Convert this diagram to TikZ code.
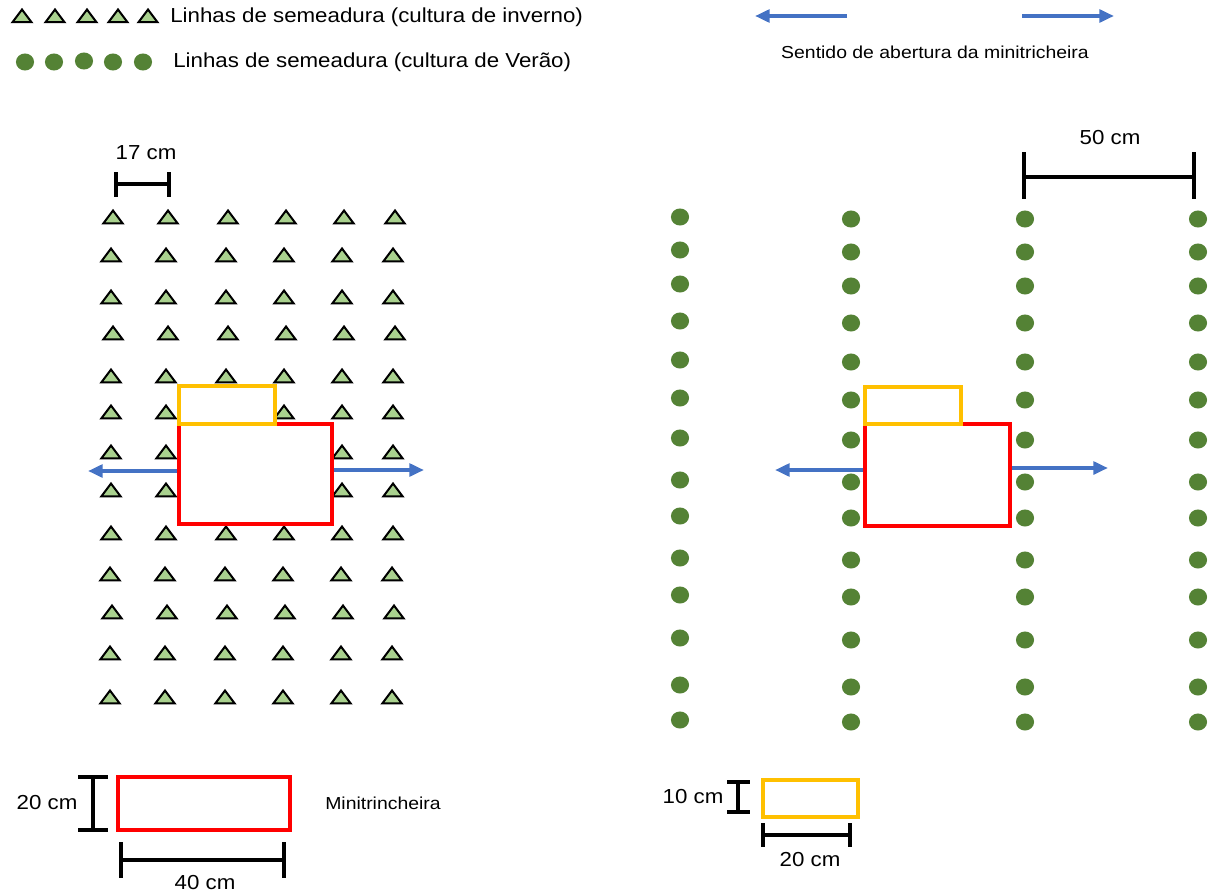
\documentclass[tikz,border=0pt]{standalone}
\usepackage{fontspec}
\setmainfont{Liberation Sans}
\usetikzlibrary{shapes.geometric,arrows.meta}
\definecolor{triFill}{HTML}{A9D18E}
\definecolor{dotFill}{HTML}{548235}
\definecolor{arrBlue}{HTML}{4472C4}
\definecolor{pitRed}{HTML}{FF0000}
\definecolor{pitGold}{HTML}{FFC000}
\tikzset{
  tri/.style={regular polygon, regular polygon sides=3, draw=black, fill=triFill,
    line width=1.5pt, minimum size=15pt, inner sep=0pt, xscale=1.1, yscale=0.85},
  dot/.style={ellipse, fill=dotFill, minimum width=13.6pt, minimum height=12.8pt, inner sep=0pt},
  pitbox/.style={draw=pitRed, fill=white, line width=2.4pt, inner sep=0pt},
  subbox/.style={draw=pitGold, fill=white, line width=2.3pt, inner sep=0pt},
  openarrow/.style={draw=arrBlue, line width=3.2pt, -{Triangle[length=11pt,width=9.5pt]}},
  dimline/.style={draw=black, line width=2.3pt},
  lbl/.style={font=\fontsize{15.2}{18}\selectfont, inner sep=0pt, xscale=1.1},
  smalllbl/.style={font=\fontsize{13}{16}\selectfont, inner sep=0pt, xscale=1.12},
}
\begin{document}
\begin{tikzpicture}[x=0.75pt,y=-0.75pt]
\useasboundingbox (0,0) rectangle (1216,892);

% ---- legend ----
\foreach \x [count=\i] in {22,55,87,118,148}
  \node[tri] (lt\i) at (\x,18) {};
\node[lbl, anchor=west] (ltxt) at (170,17) {Linhas de semeadura (cultura de inverno)};
\foreach \x/\yy [count=\i] in {25/62,54/62,84/61,113/62,143/62}
  \node[dot] (ld\i) at (\x,\yy) {};
\node[lbl, anchor=west] (ldtxt) at (173,62) {Linhas de semeadura (cultura de Ver\~ao)};

\coordinate (la0) at (847,16); \coordinate (la1) at (755,16);
\coordinate (ra0) at (1022,16); \coordinate (ra1) at (1114,16);
\draw[openarrow] (la0) -- (la1);
\draw[openarrow] (ra0) -- (ra1);
\node[smalllbl] (dirtxt) at (935,52) {Sentido de abertura da minitricheira};

% ---- winter crop rows (triangles) ----
\foreach \r/\y/\dx/\cols in {
   1/217/2/{1,2,3,4,5,6},
   2/255/0/{1,2,3,4,5,6},
   3/297/0/{1,2,3,4,5,6},
   4/333/2/{1,2,3,4,5,6},
   5/376/0/{1,2,3,4,5,6},
   6/412/0/{1,2,4,5,6},
   7/452/0/{1,2,5,6},
   8/490/0/{1,2,5,6},
   9/533/0/{1,2,3,4,5,6},
  10/574/-1/{1,2,3,4,5,6},
  11/612/1/{1,2,3,4,5,6},
  12/653/-1/{1,2,3,4,5,6},
  13/697/-1/{1,2,3,4,5,6}}{
  \foreach \c in \cols {
    \pgfmathsetmacro{\xx}{{111,166,226,284,342,393}[\c-1]+\dx}
    \node[tri] (t-\r-\c) at (\xx,\y+2) {};
  }
}

% ---- summer crop rows (circles) ----
\foreach \r/\y in {1/217,2/250,3/284,4/321,5/360,6/398,7/438,8/480,9/516,10/558,11/595,12/638,13/685,14/720}{
  \foreach \x [count=\c] in {680,851,1025,1198}{
    \pgfmathsetmacro{\yy}{\c==1 ? \y : \y+2}
    \node[dot] (c-\r-\c) at (\x,\yy) {};
  }
}

% ---- mini-trench, winter crop ----
\node[pitbox, minimum width=114.75pt, minimum height=75pt] (redL) at (255.5,474) {};
\node[subbox, minimum width=72pt, minimum height=28.5pt] (yelL) at (227,405) {};
\coordinate (wl) at (88,471); \coordinate (wr) at (424,470);
\draw[openarrow] (redL.west |- wl) -- (wl);
\draw[openarrow] (redL.east |- wr) -- (wr);

% ---- mini-trench, summer crop ----
\node[pitbox, minimum width=108.75pt, minimum height=76.5pt] (redR) at (937.5,475) {};
\node[subbox, minimum width=72pt, minimum height=27.75pt] (yelR) at (913,405.5) {};
\coordinate (sl) at (775,470); \coordinate (sr) at (1108,468);
\draw[openarrow] (redR.west |- sl) -- (sl);
\draw[openarrow] (redR.east |- sr) -- (sr);

% ---- spacing dimensions ----
\draw[dimline] (116,172) -- (116,197) (169,172) -- (169,197) (116,184) -- (169,184);
\node[lbl] (d17) at (146,153) {17 cm};
\draw[dimline] (1024,152) -- (1024,199) (1194,152) -- (1194,199) (1024,177) -- (1194,177);
\node[lbl] (d50) at (1110,138) {50 cm};

% ---- key: mini-trench 40 x 20 ----
\node[pitbox, minimum width=129pt, minimum height=39.75pt] (keyRed) at (204,803.5) {};
\draw[dimline] (78,777) -- (108,777) (78,830) -- (108,830) (93,777) -- (93,830);
\node[lbl] (d20a) at (47,803) {20 cm};
\draw[dimline] (121,842) -- (121,878) (284,842) -- (284,878) (121,860) -- (284,860);
\node[lbl] (d40) at (205,883) {40 cm};
\node[smalllbl] (keytxt) at (383,803) {Minitrincheira};

% ---- key: sub-sample 20 x 10 ----
\node[subbox, minimum width=71.25pt, minimum height=27.75pt] (keyYel) at (810.5,798.5) {};
\draw[dimline] (727,782) -- (750,782) (727,812) -- (750,812) (738,782) -- (738,812);
\node[lbl] (d10) at (693,797) {10 cm};
\draw[dimline] (763,823) -- (763,847) (850,823) -- (850,847) (763,835) -- (850,835);
\node[lbl] (d20b) at (810,860) {20 cm};
\end{tikzpicture}
\end{document}
